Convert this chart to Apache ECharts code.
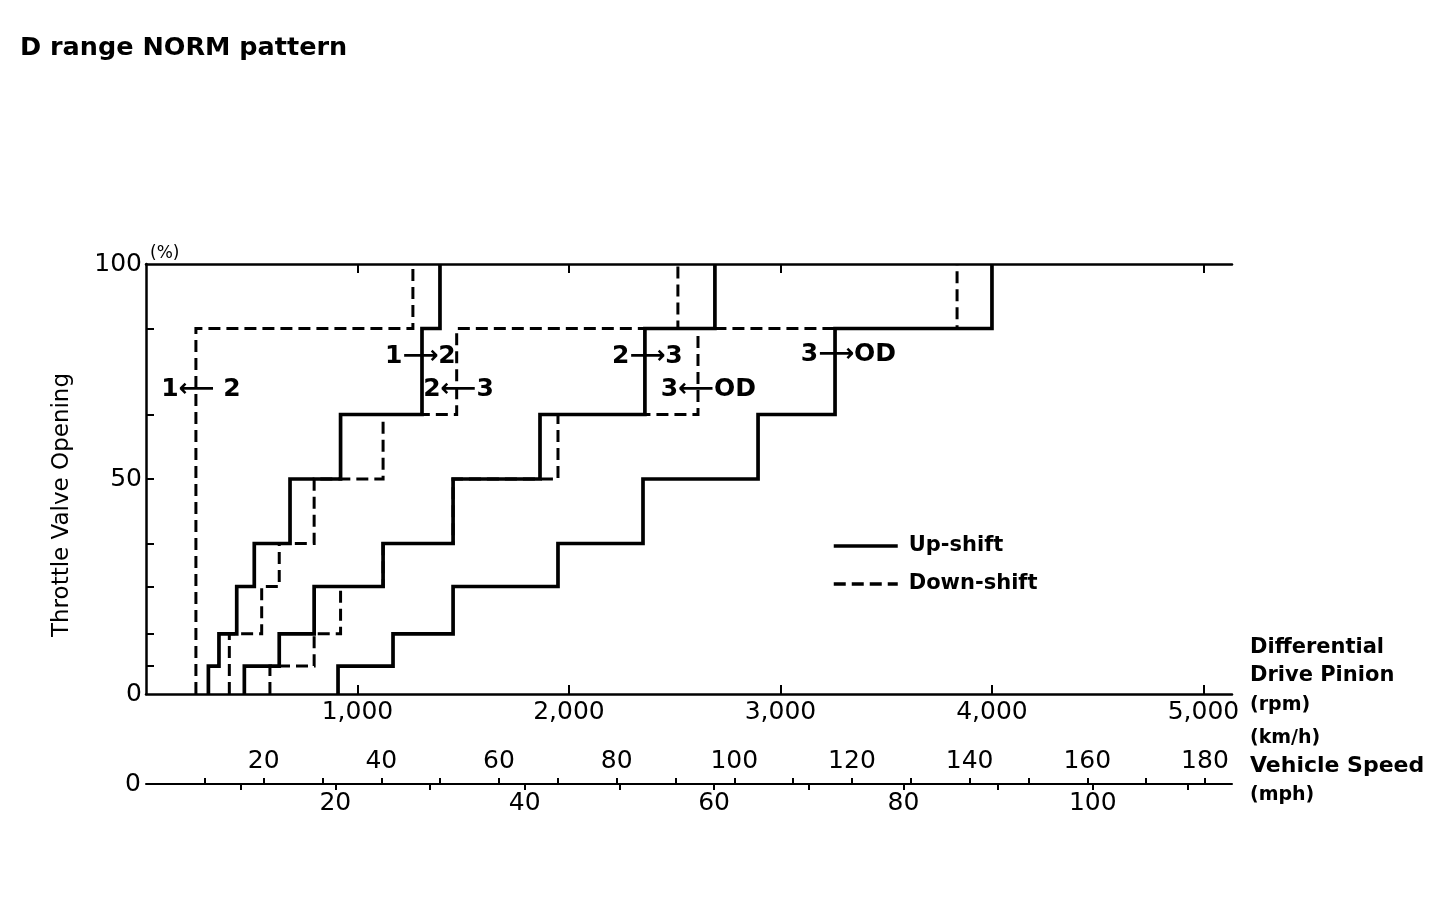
<!DOCTYPE html>
<html><head><meta charset="utf-8">
<script src="https://cdn.jsdelivr.net/npm/echarts@6/dist/echarts.min.js"></script>
<style>html,body{margin:0;padding:0;background:#fff}#c{width:1456px;height:918px}</style>
</head><body><div id="c"></div>
<script>
// ---- data (rpm of each vertical step, throttle % levels) ----
const levels = [0, 6.5, 14, 25, 35, 50, 65, 85, 100];
const up12X = [295, 345, 429, 512, 681, 920, 1305, 1390];
const down12X = [236, 1262];
const down12Levels = [0, 85, 100];
const up23X = [465, 630, 795, 1121, 1452, 1863, 2359, 2690];
const down23X = [394, 547, 630, 795, 1121, 1469, 2515];
const down23Levels = [0, 14, 25, 35, 50, 65, 85, 100];
const up3odX = [908, 1168, 1452, 1948, 2350, 2894, 3258, 4000];
const down3odX = [586, 795, 920, 1121, 1452, 1948, 2610, 3835];

const rpmTicks = [1000, 2000, 3000, 4000, 5000];
const throttleTicks = [6.5, 14, 25, 35, 50, 65, 85];
const throttleLabels = [0, 50, 100];
const kmhTicks = [10,20,30,40,50,60,70,80,90,100,110,120,130,140,150,160,170,180];
const kmhLabels = [20,40,60,80,100,120,140,160,180];
const mphTicks = [10,20,30,40,50,60,70,80,90,100,110];
const mphLabels = [20,40,60,80,100];

const annotNames = ['1⟵ 2', '1⟶2', '2⟵3', '2⟶3', '3⟵OD', '3⟶OD'];
const annotRpm = [262, 1300, 1480, 2373, 2662, 3324];
const annotPct = [70.7, 78.4, 70.7, 78.4, 70.7, 78.8];

// ---- build ----
function stairs(xs, lv) {
  const pts = [];
  xs.forEach((x, i) => { pts.push([x, lv[i]]); pts.push([x, lv[i + 1]]); });
  return pts;
}
const RPM_MAX = 5135, KMH_MAX = 184.6, MPH_MAX = KMH_MAX / 1.609344;
const FONT = 'DejaVu Sans';
const solid = { color: '#000', width: 3.7, cap: 'butt', join: 'miter' };
const dashed = { color: '#000', width: 3, type: [12, 6], cap: 'butt', join: 'miter' };
function lineSeries(name, pts, style) {
  return { type: 'line', name, data: pts, showSymbol: false, symbol: 'none',
    lineStyle: style, itemStyle: { color: '#000' }, xAxisIndex: 0, yAxisIndex: 0,
    animation: false, silent: true, z: 3 };
}
const series = [
  lineSeries('Up-shift', stairs(up12X, levels), solid),
  lineSeries('Down-shift', stairs(down12X, down12Levels), dashed),
  lineSeries('Up-shift', stairs(up23X, levels), solid),
  lineSeries('Down-shift', stairs(down23X, down23Levels), dashed),
  lineSeries('Up-shift', stairs(up3odX, levels), solid),
  lineSeries('Down-shift', stairs(down3odX, levels), dashed),
  { type: 'scatter', xAxisIndex: 0, yAxisIndex: 0, symbolSize: 1, silent: true,
    itemStyle: { color: '#fff', opacity: 0 }, animation: false, z: 5,
    data: annotNames.map((n, i) => ({ name: n, value: [annotRpm[i], annotPct[i]] })),
    label: { show: true, position: [0, 0], align: 'center', verticalAlign: 'middle',
      formatter: p => p.name, color: '#000', opacity: 1, textBorderWidth: 0,
      fontFamily: FONT, fontWeight: 'bold', fontSize: 25 } }
];

const axisLineStyle = { color: '#000', width: 2.5 };
const option = {
  backgroundColor: '#fff',
  animation: false,
  grid: [
    { left: 146, top: 264, width: 1086, height: 430 },
    { left: 146, top: 783, width: 1086, height: 1 }
  ],
  xAxis: [
    { gridIndex: 0, type: 'value', position: 'bottom', min: 0, max: RPM_MAX, interval: 1000,
      axisLine: { show: true, lineStyle: axisLineStyle },
      axisTick: { show: true, inside: true, length: 9, customValues: rpmTicks, lineStyle: { color: '#000', width: 2 } },
      axisLabel: { customValues: rpmTicks,
        formatter: v => rpmTicks.includes(v) ? v.toLocaleString('en-US') : '',
        color: '#000', fontFamily: FONT, fontSize: 25, margin: 6 },
      splitLine: { show: false } },
    { gridIndex: 0, type: 'value', position: 'top', min: 0, max: RPM_MAX, interval: 1000,
      axisLine: { show: true, lineStyle: axisLineStyle },
      axisTick: { show: true, inside: true, length: 9, customValues: rpmTicks, lineStyle: { color: '#000', width: 2 } },
      axisLabel: { show: false }, splitLine: { show: false } },
    { gridIndex: 1, type: 'value', position: 'top', min: 0, max: KMH_MAX, interval: 10,
      axisLine: { show: true, lineStyle: { color: '#000', width: 2 } },
      axisTick: { show: true, inside: false, length: 6, customValues: kmhTicks, lineStyle: { color: '#000', width: 2 } },
      axisLabel: { customValues: kmhLabels,
        formatter: v => kmhLabels.includes(v) ? String(v) : '',
        color: '#000', fontFamily: FONT, fontSize: 25, margin: 9 },
      splitLine: { show: false } },
    { gridIndex: 1, type: 'value', position: 'bottom', min: 0, max: MPH_MAX, interval: 10,
      axisLine: { show: false },
      axisTick: { show: true, inside: false, length: 6, customValues: mphTicks, lineStyle: { color: '#000', width: 2 } },
      axisLabel: { customValues: mphLabels,
        formatter: v => mphLabels.includes(v) ? String(v) : '',
        color: '#000', fontFamily: FONT, fontSize: 25, margin: 7 },
      splitLine: { show: false } }
  ],
  yAxis: [
    { gridIndex: 0, type: 'value', min: 0, max: 100, interval: 50,
      axisLine: { show: true, lineStyle: axisLineStyle },
      axisTick: { show: true, inside: true, length: 8, customValues: throttleTicks, lineStyle: { color: '#000', width: 2 } },
      axisLabel: { customValues: throttleLabels, color: '#000', fontFamily: FONT, fontSize: 25, margin: 4 },
      splitLine: { show: false },
      name: '(%)', nameLocation: 'end', nameGap: 2,
      nameTextStyle: { align: 'left', color: '#000', fontFamily: FONT, fontSize: 17, padding: [0, 0, 0, 4] } },
    { gridIndex: 1, type: 'value', show: false, min: 0, max: 1 }
  ],
  legend: {
    data: ['Up-shift', 'Down-shift'], orient: 'vertical', left: 832, top: 533, padding: 0,
    itemWidth: 64, itemHeight: 14, itemGap: 12, selectedMode: false,
    itemStyle: { color: 'rgba(0,0,0,0)', borderWidth: 0, opacity: 0 },
    lineStyle: { width: 3.5 },
    textStyle: { color: '#000', fontFamily: FONT, fontWeight: 'bold', fontSize: 21, lineHeight: 26, padding: [0, 0, 0, 6] }
  },
  graphic: [
    { type: 'text', x: 20, y: 48, style: { text: 'D range NORM pattern', fill: '#000', fontFamily: FONT, fontWeight: 'bold', fontSize: 25.5, align: 'left', verticalAlign: 'middle' } },
    { type: 'text', x: 62, y: 505, rotation: Math.PI / 2, style: { text: 'Throttle Valve Opening', fill: '#000', fontFamily: FONT, fontSize: 23, align: 'center', verticalAlign: 'middle' } },
    { type: 'text', x: 141, y: 784, style: { text: '0', fill: '#000', fontFamily: FONT, fontSize: 25, align: 'right', verticalAlign: 'middle' } },
    { type: 'text', x: 1250, y: 648, style: { text: 'Differential', fill: '#000', fontFamily: FONT, fontWeight: 'bold', fontSize: 21, align: 'left', verticalAlign: 'middle' } },
    { type: 'text', x: 1250, y: 676, style: { text: 'Drive Pinion', fill: '#000', fontFamily: FONT, fontWeight: 'bold', fontSize: 21, align: 'left', verticalAlign: 'middle' } },
    { type: 'text', x: 1250, y: 705, style: { text: '(rpm)', fill: '#000', fontFamily: FONT, fontWeight: 'bold', fontSize: 19, align: 'left', verticalAlign: 'middle' } },
    { type: 'text', x: 1250, y: 738, style: { text: '(km/h)', fill: '#000', fontFamily: FONT, fontWeight: 'bold', fontSize: 19, align: 'left', verticalAlign: 'middle' } },
    { type: 'text', x: 1250, y: 766, style: { text: 'Vehicle Speed', fill: '#000', fontFamily: FONT, fontWeight: 'bold', fontSize: 22, align: 'left', verticalAlign: 'middle' } },
    { type: 'text', x: 1250, y: 795, style: { text: '(mph)', fill: '#000', fontFamily: FONT, fontWeight: 'bold', fontSize: 19, align: 'left', verticalAlign: 'middle' } }
  ],
  series
};
const chart = echarts.init(document.getElementById('c'), null, { renderer: 'canvas' });
chart.setOption(option);
</script>
</body></html>
